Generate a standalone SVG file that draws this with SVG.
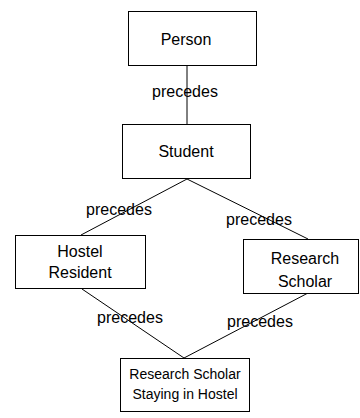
<svg xmlns="http://www.w3.org/2000/svg" width="360" height="418" viewBox="0 0 360 418">
<style>
.box{fill:#fff;stroke:#000;stroke-width:1}
.lbl{font-family:"Liberation Sans",Arial,sans-serif;font-size:16px;fill:#000;text-anchor:middle}
.sm{font-size:14px}
.edge{stroke:#000;stroke-width:1;fill:none}
</style>
<rect width="360" height="418" fill="#fff"/>
<g id="connectors">
<line class="edge" x1="187" y1="66" x2="187" y2="124"/>
<line class="edge" x1="187" y1="179" x2="81" y2="235"/>
<line class="edge" x1="187" y1="179" x2="308" y2="239"/>
<line class="edge" x1="82" y1="289" x2="184" y2="358"/>
<line class="edge" x1="308" y1="293" x2="184" y2="358"/>
<text class="lbl" x="185" y="97">precedes</text>
<text class="lbl" x="119" y="215">precedes</text>
<text class="lbl" x="259" y="225">precedes</text>
<text class="lbl" x="130" y="323">precedes</text>
<text class="lbl" x="260" y="327">precedes</text>
</g>
<g id="person">
<rect class="box" x="128.5" y="11.5" width="128" height="54"/>
<text class="lbl" x="186" y="45">Person</text>
</g>
<g id="student">
<rect class="box" x="122.5" y="124.5" width="128" height="54"/>
<text class="lbl" x="186" y="157">Student</text>
</g>
<g id="hostel-resident">
<rect class="box" x="15.5" y="235.5" width="130" height="53"/>
<text class="lbl" x="80" y="257">Hostel</text>
<text class="lbl" x="80" y="278">Resident</text>
</g>
<g id="research-scholar">
<rect class="box" x="243.5" y="239.5" width="115" height="54"/>
<text class="lbl" x="305" y="264">Research</text>
<text class="lbl" x="305" y="287">Scholar</text>
</g>
<g id="rs-hostel">
<rect class="box" x="120.5" y="358.5" width="129" height="53"/>
<text class="lbl sm" x="185" y="379">Research Scholar</text>
<text class="lbl sm" x="185" y="399">Staying in Hostel</text>
</g>
</svg>
